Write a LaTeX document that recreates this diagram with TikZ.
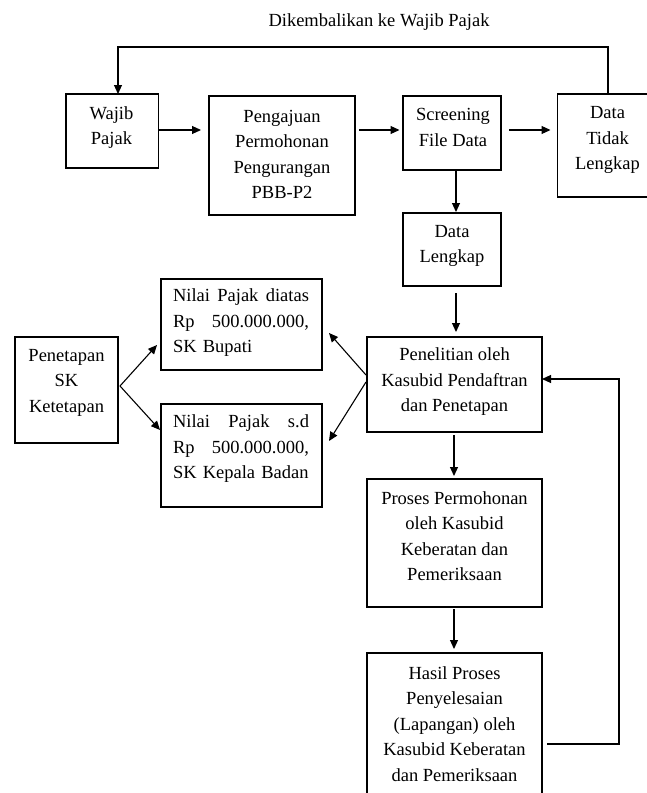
\documentclass[tikz,border=0pt]{standalone}
\usepackage{fontspec}
\setmainfont{Liberation Serif}
\usetikzlibrary{arrows.meta}
\begin{document}
\begin{tikzpicture}[x=1pt,y=-1pt,
  box/.style={draw, line width=1.1pt, rectangle, inner sep=0pt, outer sep=0pt},
  txt/.style={font=\fontsize{18.5}{25.5}\selectfont, align=center, inner sep=0pt},
  jtxt/.style={font=\fontsize{18.5}{25.5}\selectfont, align=left, text width=136pt, inner sep=0pt},
  arr/.style={line width=1.1pt, -{Triangle[length=9pt,width=8pt]}},
  ln/.style={line width=1.1pt}]
\useasboundingbox (0,0) rectangle (647,793);
\clip (0,0) rectangle (647,793);

% boxes
\node[box, minimum width=92.5pt, minimum height=74pt] (wp) at (112.25,131) {};
\node[box, minimum width=146pt, minimum height=119pt] (pg) at (282,155.5) {};
\node[box, minimum width=98pt, minimum height=74pt] (sc) at (452,133) {};
\node[box, minimum width=100pt, minimum height=103pt] (dtl) at (607.5,145.5) {};
\node[box, minimum width=98pt, minimum height=73pt] (dl) at (452,249.5) {};
\node[box, minimum width=175pt, minimum height=95pt] (pn) at (454.5,384.5) {};
\node[box, minimum width=175pt, minimum height=128pt] (pp) at (454.5,543) {};
\node[box, minimum width=175pt, minimum height=157pt] (hs) at (454.5,731.5) {};
\node[box, minimum width=103pt, minimum height=106pt] (pt) at (66.5,390) {};
\node[box, minimum width=161pt, minimum height=91pt] (nd) at (241.5,324.5) {};
\node[box, minimum width=161pt, minimum height=103pt] (ns) at (241.5,455.5) {};

% texts
\node[txt] (title) at (379,22) {Dikembalikan ke Wajib Pajak};
\node[txt] (twp) at (111.5,127.5) {Wajib\\Pajak};
\node[txt] (tpg) at (282,154.5) {Pengajuan\\Permohonan\\Pengurangan\\PBB-P2};
\node[txt] (tsc) at (453,127.5) {Screening\\File Data};
\node[txt] (tdtl) at (607.5,140) {Data\\Tidak\\Lengkap};
\node[txt] (tdl) at (452,246) {Data\\Lengkap};
\node[txt] (tpn) at (454.5,382) {Penelitian oleh\\Kasubid Pendaftran\\dan Penetapan};
\node[txt] (tpp) at (454.5,536) {Proses Permohonan\\oleh Kasubid\\Keberatan dan\\Pemeriksaan};
\node[txt] (ths) at (454.5,724) {Hasil Proses\\Penyelesaian\\(Lapangan) oleh\\Kasubid Keberatan\\dan Pemeriksaan};
\node[txt] (tpt) at (66.5,382.6) {Penetapan\\SK\\Ketetapan};
\node[jtxt] (tnd) at (241,323) {Nilai\hfill Pajak\hfill diatas\\Rp\hfill 500.000.000,\\SK Bupati};
\node[jtxt] (tns) at (241,449) {Nilai\hfill Pajak\hfill s.d\\Rp\hfill 500.000.000,\\SK Kepala Badan};

% connectors
\coordinate (lt) at (118,47);
\coordinate (rt) at (608,47);
\draw[arr] (dtl.north -| rt) -- (rt) -- (lt) -- (lt |- wp.north);

\draw[arr, shorten >=8pt] (wp.east |- 0,130) -- (pg.west |- 0,130);
\draw[arr, shorten <=4pt, shorten >=3.5pt] (pg.east |- 0,130) -- (sc.west |- 0,130);
\draw[arr, shorten <=8pt, shorten >=7pt] (sc.east |- 0,130) -- (dtl.west |- 0,130);
\draw[arr, shorten >=1pt] (sc.south -| 456,0) -- (dl.north -| 456,0);
\draw[arr, shorten <=7pt, shorten >=5pt] (dl.south -| 456,0) -- (pn.north -| 456,0);
\draw[arr, shorten <=3pt, shorten >=3pt] (pn.south -| 454,0) -- (pp.north -| 454,0);
\draw[arr, shorten <=2pt, shorten >=4pt] (pp.south -| 454,0) -- (hs.north -| 454,0);

\coordinate (fb1) at (547,744);
\coordinate (fb2) at (619,744);
\coordinate (fb3) at (619,379);
\draw[arr] (fb1) -- (fb2) -- (fb3) -- (pn.east |- fb3);

\coordinate (pnl1) at (366,375);
\coordinate (pnl2) at (366,382);
\draw[arr] (pnl1) -- (329,333) coordinate (ndr);
\draw[arr] (pnl2) -- (329,441) coordinate (nsr);

\coordinate (ptr) at (120,386);
\draw[arr] (ptr) -- (157,345) coordinate (ndl);
\draw[arr] (ptr) -- (160,430) coordinate (nsl);
\end{tikzpicture}
\end{document}
